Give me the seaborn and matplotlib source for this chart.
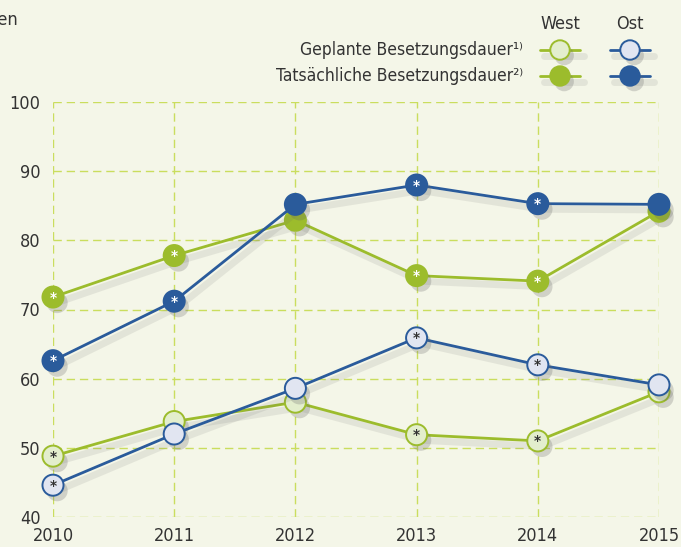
import numpy as np
import pandas as pd
import matplotlib
matplotlib.use("Agg")
import matplotlib.pyplot as plt
import matplotlib.patheffects as pe
from matplotlib.lines import Line2D
import seaborn as sns

years = [2010, 2011, 2012, 2013, 2014, 2015]
west_geplant = [48.8, 53.8, 56.6, 51.9, 51.0, 58.1]
ost_geplant = [44.6, 52.0, 58.6, 65.9, 62.0, 59.1]
west_tats = [71.8, 77.8, 82.9, 74.9, 74.1, 84.2]
ost_tats = [62.6, 71.2, 85.2, 88.0, 85.3, 85.2]

# which points carry a significance star
star_geplant = [True, False, False, True, True, False]
star_tats = [True, True, False, True, True, False]

legend_rows = ["Geplante Besetzungsdauer\u00b9\u207e", "Tats\u00e4chliche Besetzungsdauer\u00b2\u207e"]
legend_cols = ["West", "Ost"]

BG = "#f4f6e8"
GREEN = "#9cbc2c"
BLUE = "#2a5b9b"
GREEN_LIGHT = "#e3eecd"
BLUE_LIGHT = "#e1e5f1"
GRID = "#cadd5e"
TXT = "#333333"

sns.set_theme(style="white")
plt.rcParams['font.family'] = ['DejaVu Sans']
plt.rcParams['font.stretch'] = 'condensed'

fig = plt.figure(figsize=(6.81, 5.47), dpi=100)
fig.patch.set_facecolor(BG)
ax = fig.add_axes([53 / 681, 1 - 517 / 547, 606 / 681, 415 / 547])
ax.set_facecolor(BG)

line_fx = [pe.SimpleLineShadow(offset=(3, -4), shadow_color="#666666", alpha=0.12, linewidth=5), pe.Normal()]
mark_fx = [pe.SimplePatchShadow(offset=(3, -4), shadow_rgbFace="#666666", alpha=0.25), pe.Normal()]

series = [
    (west_geplant, GREEN, GREEN_LIGHT, star_geplant, TXT),
    (ost_geplant, BLUE, BLUE_LIGHT, star_geplant, TXT),
    (west_tats, GREEN, GREEN, star_tats, "white"),
    (ost_tats, BLUE, BLUE, star_tats, "white"),
]

z = 3
for vals, col, face, stars, star_col in series:
    df = pd.DataFrame({"Jahr": years, "Wert": vals})
    sns.lineplot(data=df, x="Jahr", y="Wert", color=col, linewidth=2.0, ax=ax,
                 zorder=z, path_effects=line_fx, clip_on=False)
    sns.scatterplot(data=df, x="Jahr", y="Wert", color=face, edgecolor=col, linewidth=1.4,
                    s=230, ax=ax, zorder=z + 1, clip_on=False, path_effects=mark_fx, legend=False)
    for x, y, st in zip(years, vals, stars):
        if st:
            ax.text(x, y - 0.3, "*", ha="center", va="center", fontsize=11, fontweight="bold",
                    color=star_col, zorder=z + 2, family="DejaVu Sans")
    z += 3

ax.set_xlim(2010, 2015)
ax.set_ylim(40, 100)
ax.set_xticks(years)
ax.set_yticks(range(40, 101, 10))
ax.grid(True, color=GRID, linestyle=(0, (6, 3.5)), linewidth=1.0)
for s in ax.spines.values():
    s.set_visible(False)
ax.tick_params(axis="y", length=0, pad=9, labelsize=13, labelcolor=TXT)
ax.tick_params(axis="x", length=0, pad=7, labelsize=13, labelcolor=TXT)
ax.set_xlabel("")
ax.set_ylabel("")

fig.text(18 / 681, 1 - 20 / 547, "in Tagen", ha="right", va="center", fontsize=13, color=TXT)

# custom legend
col_x = [560 / 681, 630 / 681]
row_y = [1 - 50 / 547, 1 - 76 / 547]
for cx, lab in zip(col_x, legend_cols):
    fig.text(cx, 1 - 24 / 547, lab, ha="center", va="center", fontsize=13, color=TXT)
for ry, lab in zip(row_y, legend_rows):
    fig.text(523 / 681, ry, lab, ha="right", va="center", fontsize=12.5, color=TXT)
leg = [(0, 0, GREEN, GREEN_LIGHT), (0, 1, BLUE, BLUE_LIGHT), (1, 0, GREEN, GREEN), (1, 1, BLUE, BLUE)]
for r, c, col, face in leg:
    cx, ry = col_x[c], row_y[r]
    fig.add_artist(Line2D([cx - 20 / 681, cx + 20 / 681], [ry, ry], transform=fig.transFigure,
                          color=col, linewidth=2.0, path_effects=line_fx))
    fig.add_artist(Line2D([cx], [ry], transform=fig.transFigure, marker="o", markersize=14,
                          markerfacecolor=face, markeredgecolor=col, markeredgewidth=1.4,
                          linestyle="none", path_effects=mark_fx))

fig.savefig("out.png", dpi=100, facecolor=BG)
